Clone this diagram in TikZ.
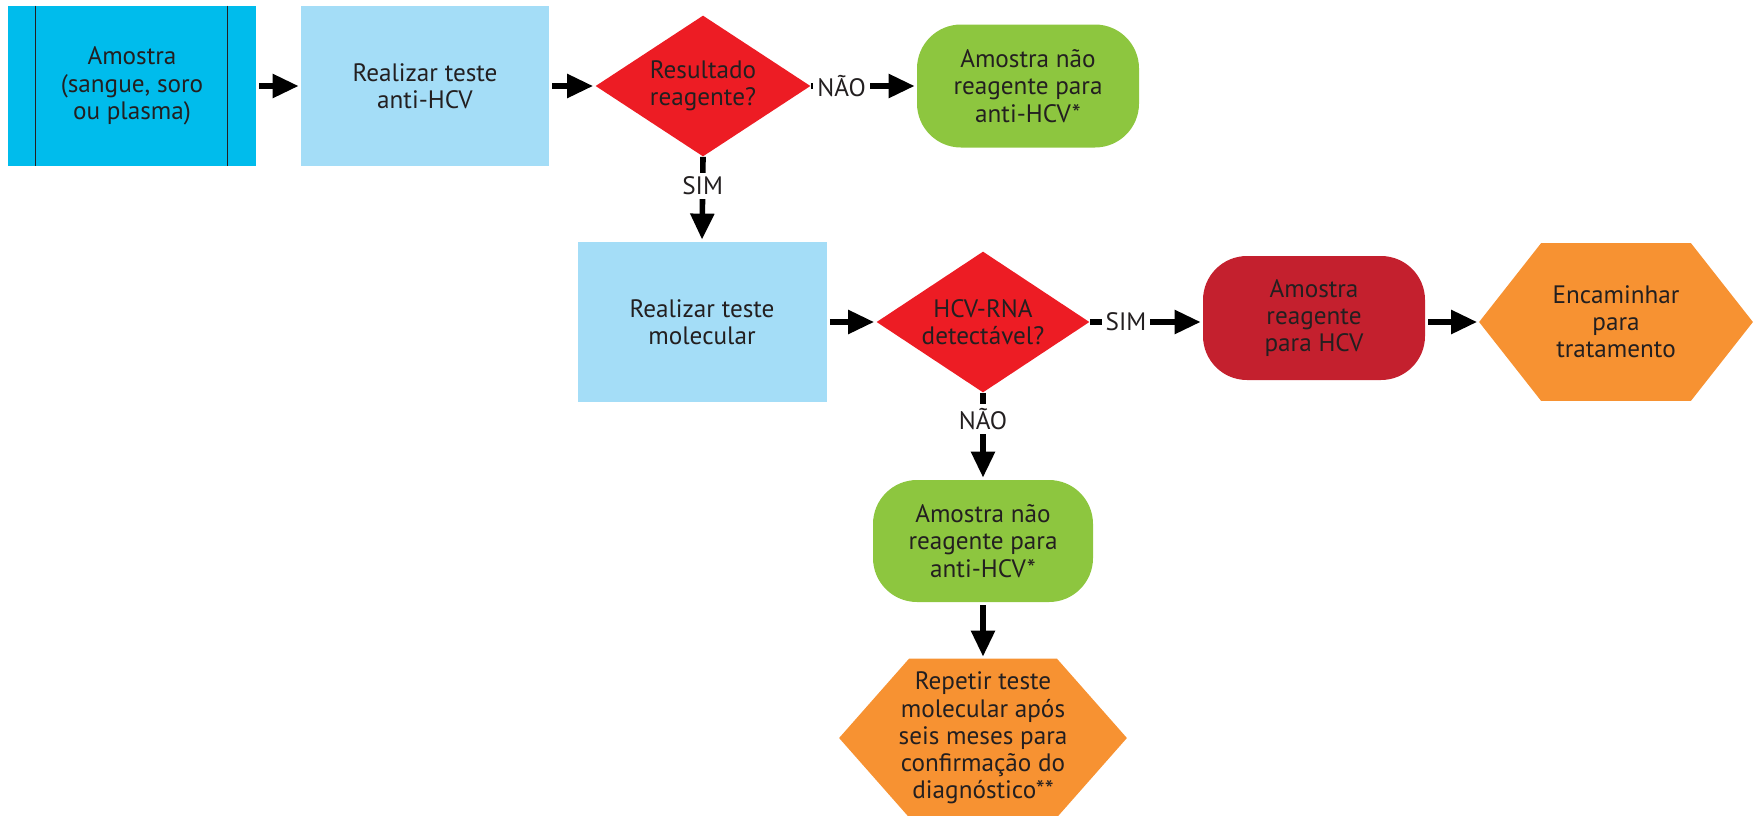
\documentclass[tikz,border=0pt]{standalone}
\usepackage{fontspec}
\setmainfont{PT Sans}
\usetikzlibrary{shapes.geometric,arrows.meta,calc}
\pgfdeclarelayer{bg}
\pgfsetlayers{bg,main}
\definecolor{cyanbox}{RGB}{0,188,236}
\definecolor{lightbox}{RGB}{164,221,247}
\definecolor{redd}{RGB}{237,28,36}
\definecolor{greenbox}{RGB}{141,198,63}
\definecolor{darkredbox}{RGB}{196,32,46}
\definecolor{orangebox}{RGB}{247,146,50}
\definecolor{txt}{RGB}{35,31,32}
\tikzset{
  every node/.style={font=\fontsize{12.6}{13.6}\selectfont, text=txt, align=center, inner sep=0pt},
  rectbox/.style={minimum width=124pt, minimum height=80pt},
  decision/.style={diamond, fill=redd, minimum width=107.5pt, minimum height=70.5pt, shape aspect=1.52},
  termbox/.style={rounded corners=22pt, minimum width=111pt, minimum height=62pt},
  lbl/.style={fill=white, inner sep=2pt},
  arr/.style={line width=2.8pt, draw=black, -{Triangle[length=13pt,width=11.5pt]}, shorten >=1pt, shorten <=1.5pt},
}
\begin{document}
\begin{tikzpicture}[x=0.5pt,y=-0.5pt]
\useasboundingbox (0,0) rectangle (1755,815);
% nodes
\node[rectbox, fill=cyanbox] (a) at (132,86) {Amostra\\(sangue, soro\\ou plasma)};
\node[rectbox, fill=lightbox] (b) at (425,86) {Realizar teste\\anti-HCV};
\node[decision] (d1) at (703,86) {Resultado\\reagente?};
\node[termbox, fill=greenbox, minimum height=61.5pt] (g1) at (1028,86) {Amostra não\\reagente para\\anti-HCV*};
\node[rectbox, fill=lightbox, minimum width=124.5pt] (c) at (702,322) {Realizar teste\\molecular};
\node[decision, minimum width=106.5pt] (d2) at (983,322) {HCV-RNA\\detectável?};
\node[termbox, fill=darkredbox] (r) at (1314,318) {Amostra\\reagente\\para HCV};
\node[minimum width=136.5pt, minimum height=78.5pt] (h1) at (1616,322) {Encaminhar\\para\\tratamento};
\node[termbox, fill=greenbox, minimum width=110pt, minimum height=61pt] (g2) at (983,541) {Amostra não\\reagente para\\anti-HCV*};
\node[minimum width=143.5pt, minimum height=79pt] (h2) at (983,738) {Repetir teste\\molecular após\\seis meses para\\confirmação do\\diagnóstico**};
% hexagon fills
\begin{pgfonlayer}{bg}
\fill[orangebox] (h1.west) -- ([xshift=31pt]h1.north west) -- ([xshift=-31pt]h1.north east) -- (h1.east) -- ([xshift=-31pt]h1.south east) -- ([xshift=31pt]h1.south west) -- cycle;
\fill[orangebox] (h2.west) -- ([xshift=35pt]h2.north west) -- ([xshift=-35pt]h2.north east) -- (h2.east) -- ([xshift=-35pt]h2.south east) -- ([xshift=35pt]h2.south west) -- cycle;
\end{pgfonlayer}
% inner lines of first box
\draw[line width=0.8pt, txt] ([xshift=14pt]a.north west) -- ([xshift=14pt]a.south west);
\draw[line width=0.8pt, txt] ([xshift=-14.5pt]a.north east) -- ([xshift=-14.5pt]a.south east);
% connectors
\draw[arr] (a) -- (b);
\draw[arr] (b) -- (d1);
\draw[arr, shorten <=0pt] (d1.east) -- node[lbl, pos=0.29] {NÃO} (g1.west);
\draw[arr, shorten <=0pt] (d1.south) -- node[lbl, pos=0.34] {SIM} (c.north);
\draw[arr] (c) -- (d2);
\draw[arr, shorten <=0pt] (d2.east) -- node[lbl, pos=0.32] {SIM} (r.west |- d2.east);
\draw[arr] (r.east |- h1.west) -- (h1.west);
\draw[arr, shorten <=0pt] (d2.south) -- node[lbl, pos=0.3] {NÃO} (g2.north);
\draw[arr] (g2.south) -- (h2.north);
\end{tikzpicture}
\end{document}
